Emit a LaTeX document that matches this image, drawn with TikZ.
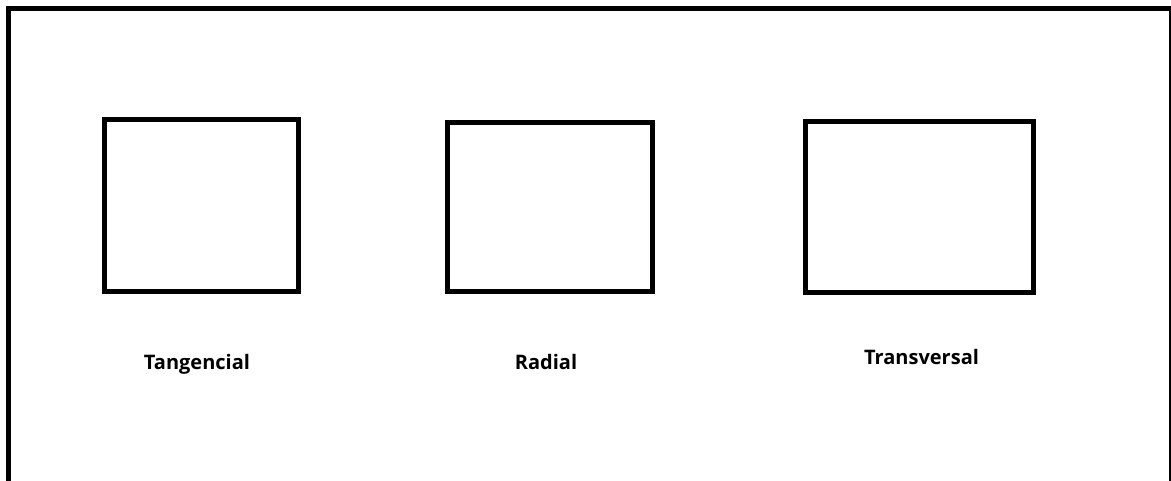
\documentclass[tikz,border=0pt]{standalone}
\usepackage{fontspec}
\setmainfont{Open Sans}
\begin{document}
\begin{tikzpicture}[x=1pt,y=-1pt,
  panel/.style={draw=black,line width=5pt,rectangle,inner sep=0pt,outer sep=0pt},
  lbl/.style={anchor=base,inner sep=0pt,font=\fontsize{20}{22}\selectfont\bfseries}]
\useasboundingbox (0,0) rectangle (1171,481);
\fill[white] (0,0) rectangle (1171,481);
\coordinate (fbl) at (8.5,490);
\coordinate (ftl) at (8.5,8.5);
\coordinate (ftr) at (1171.5,8.5);
\coordinate (fbr) at (1171.5,490);
\draw[line width=5pt] (fbl) -- (ftl) -- (ftr) -- (fbr);
\node[panel,minimum width=194pt,minimum height=172pt] (b1) at (201,205.5) {};
\node[panel,minimum width=205pt,minimum height=168.5pt] (b2) at (550,207.25) {};
\node[panel,minimum width=228.5pt,minimum height=171pt] (b3) at (919.25,207.5) {};
\node[lbl] (t1) at (197,369) {Tangencial};
\node[lbl] (t2) at (546,370) {Radial};
\node[lbl] (t3) at (921.5,364) {Transversal};
\end{tikzpicture}
\end{document}
